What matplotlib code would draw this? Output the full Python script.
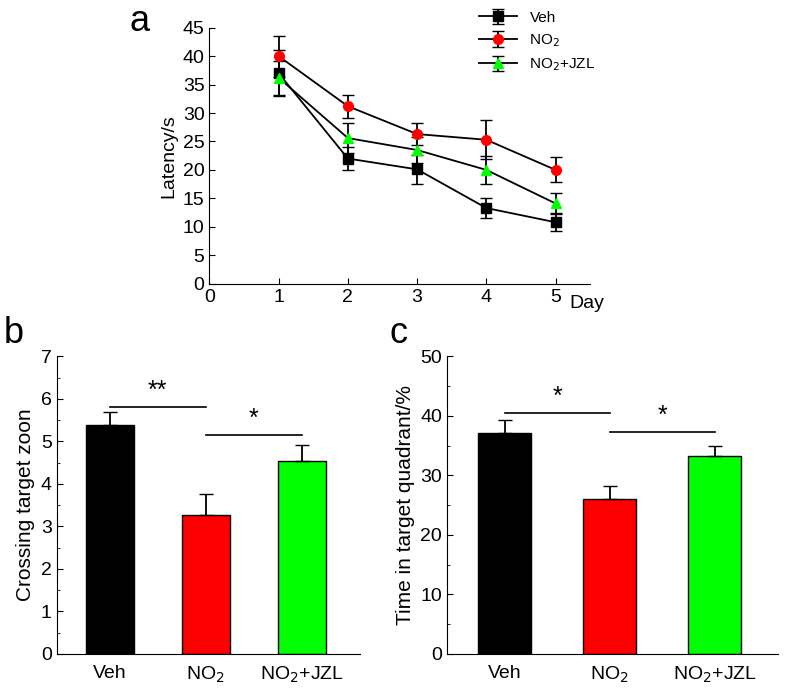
import matplotlib.pyplot as plt
from matplotlib.ticker import AutoMinorLocator

DAYS = [1, 2, 3, 4, 5]
VEH_LAT = [37.0, 22.0, 20.1, 13.3, 10.8]
VEH_ERR = [4.0, 2.1, 2.6, 1.7, 1.6]
NO2_LAT = [40.0, 31.2, 26.3, 25.3, 20.0]
NO2_ERR = [3.6, 2.0, 2.0, 3.4, 2.2]
JZL_LAT = [36.2, 25.6, 23.5, 20.0, 14.1]
JZL_ERR = [3.0, 2.6, 2.3, 2.4, 1.9]

GROUPS = ["Veh", "NO$_2$", "NO$_2$+JZL"]
BAR_COLORS = ["black", "red", "#00ff00"]
CROSS = [5.38, 3.28, 4.55]
CROSS_ERR = [0.3, 0.48, 0.37]
TIME = [37.2, 26.0, 33.2]
TIME_ERR = [2.1, 2.3, 1.7]

plt.rcParams["font.family"] = "Liberation Sans"

fig = plt.figure(figsize=(7.87, 6.92), dpi=100)

# panel a
ax = fig.add_axes([0.266, 0.59, 0.484, 0.37])
for y, e, m, c, lab in [(VEH_LAT, VEH_ERR, "s", "black", "Veh"),
                        (NO2_LAT, NO2_ERR, "o", "red", "NO$_2$"),
                        (JZL_LAT, JZL_ERR, "^", "#00ff00", "NO$_2$+JZL")]:
    ax.errorbar(DAYS, y, yerr=e, color="black", marker=m, mfc=c, mec=c,
                ms=7, lw=1.3, capsize=4, elinewidth=1.3, label=lab)
ax.set_xlim(0, 5.5)
ax.set_ylim(0, 45)
ax.set_xticks(range(6))
ax.set_yticks(range(0, 46, 5))
ax.set_ylabel("Latency/s", fontsize=14)
ax.text(5.2, -1.9, "Day", fontsize=14, va="top")
ax.spines["top"].set_visible(False)
ax.spines["right"].set_visible(False)
ax.tick_params(labelsize=14, direction="in", length=4)
ax.legend(loc="upper right", bbox_to_anchor=(1.05, 1.12), frameon=False,
          fontsize=11, handlelength=2.5)
fig.text(0.165, 0.955, "a", fontsize=26)


def bar_panel(rect, vals, errs, ylim, step, ylabel, sig):
    ax = fig.add_axes(rect)
    x = range(len(GROUPS))
    ax.bar(x, vals, width=0.5, color=BAR_COLORS, edgecolor="black", lw=1)
    ax.errorbar(x, vals, yerr=[[0] * 3, errs], fmt="none", ecolor="black",
                capsize=5, elinewidth=1.3)
    ax.set_xlim(-0.55, 2.6)
    ax.set_ylim(0, ylim)
    ax.set_yticks(range(0, ylim + 1, step))
    ax.yaxis.set_minor_locator(AutoMinorLocator(2))
    ax.set_xticks(list(x))
    ax.set_xticklabels(GROUPS)
    ax.set_ylabel(ylabel, fontsize=15)
    ax.spines["top"].set_visible(False)
    ax.spines["right"].set_visible(False)
    ax.tick_params(labelsize=14, direction="in", length=4)
    ax.tick_params(axis="y", which="minor", direction="in", length=2)
    ax.tick_params(axis="x", length=0, pad=8)
    for x0, x1, h, txt in sig:
        ax.plot([x0, x1], [h, h], color="black", lw=1.2)
        ax.text((x0 + x1) / 2, h + ylim * 0.015, txt, ha="center",
                va="bottom", fontsize=18)
    return ax


bar_panel([0.072, 0.055, 0.385, 0.43], CROSS, CROSS_ERR, 7, 1,
          "Crossing target zoon",
          [(0.0, 1.0, 5.8, "**"), (1.0, 2.0, 5.15, "*")])
fig.text(0.005, 0.505, "b", fontsize=26)
bar_panel([0.568, 0.055, 0.42, 0.43], TIME, TIME_ERR, 50, 10,
          "Time in target quadrant/%",
          [(0.0, 1.0, 40.5, "*"), (1.0, 2.0, 37.3, "*")])
fig.text(0.495, 0.505, "c", fontsize=26)

fig.savefig("out.png", dpi=100)
